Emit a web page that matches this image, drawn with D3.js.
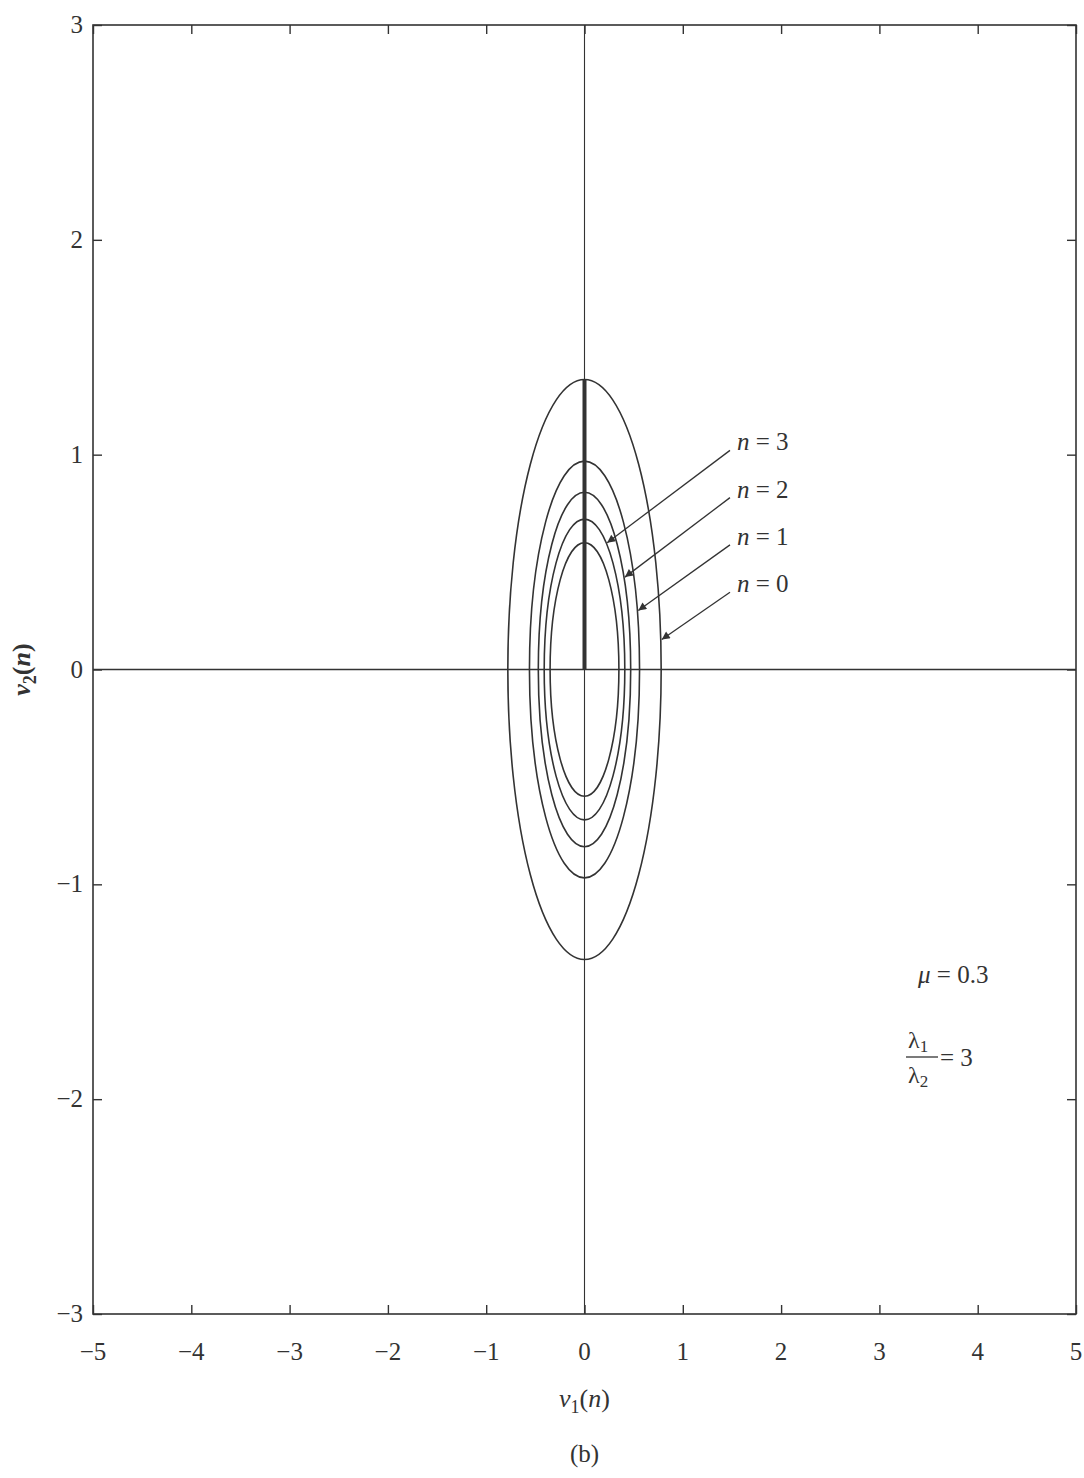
<!DOCTYPE html>
<html>
<head>
<meta charset="utf-8">
<title>contours</title>
<style>
  body { margin: 0; background: #fff; }
  text { font-family: "Liberation Serif", "DejaVu Serif", serif; fill: #333; }
</style>
</head>
<body>
<main></main>
<script src="https://cdn.jsdelivr.net/npm/d3@7/dist/d3.min.js"></script>
<script>
    // tick values
    var xTicks = [-5, -4, -3, -2, -1, 0, 1, 2, 3, 4, 5];
    var yTicks = [-3, -2, -1, 0, 1, 2, 3];

    // contour ellipses: semi axis along v1 and along v2
    var semiV1 = [0.78, 0.56, 0.47, 0.41, 0.35];
    var semiV2 = [1.35, 0.97, 0.825, 0.70, 0.59];

    // trajectory along v1 = 0
    var trajV1 = [0, 0];
    var trajV2 = [0, 1.35];

    // labels n = 0..3 and which ellipse / height the arrow hits
    var nLabels = ["0", "1", "2", "3"];
    var arrowRing = [0, 1, 2, 3];
    var arrowV2 = [0.14, 0.275, 0.43, 0.59];
    var labelV2 = [0.36, 0.58, 0.80, 1.02];

    var width = 1084, height = 1478;
    var pLeft = 93, pRight = 1076, pTop = 25, pBottom = 1314;

    var svg = d3.select("main").append("svg")
        .attr("width", width).attr("height", height);

    var x = d3.scaleLinear().domain([-5, 5]).range([pLeft, pRight]);
    var y = d3.scaleLinear().domain([-3, 3]).range([pBottom, pTop]);

    var ink = "#333";

    svg.append("defs").append("marker")
        .attr("id", "arr")
        .attr("viewBox", "0 0 10 10")
        .attr("refX", 10).attr("refY", 5)
        .attr("markerWidth", 12).attr("markerHeight", 8)
        .attr("markerUnits", "userSpaceOnUse")
        .attr("orient", "auto")
        .append("path").attr("d", "M0,0L10,5L0,10z").attr("fill", ink);

    // frame
    svg.append("rect")
        .attr("x", pLeft).attr("y", pTop)
        .attr("width", pRight - pLeft).attr("height", pBottom - pTop)
        .attr("fill", "none").attr("stroke", ink).attr("stroke-width", 1.6);

    // inward ticks on all four sides
    var tl = 9;
    function noDomain(g) { g.select(".domain").remove(); }
    svg.append("g").attr("transform", "translate(0," + pBottom + ")")
        .call(d3.axisBottom(x).tickValues(xTicks).tickSizeInner(-tl).tickSizeOuter(0).tickFormat(""))
        .call(noDomain);
    svg.append("g").attr("transform", "translate(0," + pTop + ")")
        .call(d3.axisTop(x).tickValues(xTicks).tickSizeInner(-tl).tickSizeOuter(0).tickFormat(""))
        .call(noDomain);
    svg.append("g").attr("transform", "translate(" + pLeft + ",0)")
        .call(d3.axisLeft(y).tickValues(yTicks).tickSizeInner(-tl).tickSizeOuter(0).tickFormat(""))
        .call(noDomain);
    svg.append("g").attr("transform", "translate(" + pRight + ",0)")
        .call(d3.axisRight(y).tickValues(yTicks).tickSizeInner(-tl).tickSizeOuter(0).tickFormat(""))
        .call(noDomain);
    svg.selectAll(".tick line").attr("stroke", ink).attr("stroke-width", 1.4);

    var fmt = function (d) { return d < 0 ? "\u2212" + Math.abs(d) : String(d); };

    // tick labels
    svg.append("g").selectAll("text").data(xTicks).enter().append("text")
        .attr("x", function (d) { return x(d); })
        .attr("y", pBottom + 46)
        .attr("text-anchor", "middle")
        .attr("font-size", 25)
        .text(fmt);
    svg.append("g").selectAll("text").data(yTicks).enter().append("text")
        .attr("x", pLeft - 10)
        .attr("y", function (d) { return y(d) + 8; })
        .attr("text-anchor", "end")
        .attr("font-size", 25)
        .text(fmt);

    // coordinate axes through origin
    svg.append("line")
        .attr("x1", pLeft).attr("x2", pRight)
        .attr("y1", y(0)).attr("y2", y(0))
        .attr("stroke", ink).attr("stroke-width", 1.3);
    svg.append("line")
        .attr("x1", x(0)).attr("x2", x(0))
        .attr("y1", pTop).attr("y2", pBottom)
        .attr("stroke", ink).attr("stroke-width", 1.1);

    // ellipses
    svg.append("g").selectAll("ellipse").data(semiV1).enter().append("ellipse")
        .attr("cx", x(0)).attr("cy", y(0))
        .attr("rx", function (d) { return x(d) - x(0); })
        .attr("ry", function (d, i) { return y(0) - y(semiV2[i]); })
        .attr("fill", "none").attr("stroke", ink).attr("stroke-width", 1.6);

    // trajectory
    svg.append("path")
        .datum(d3.zip(trajV1, trajV2))
        .attr("d", d3.line().x(function (d) { return x(d[0]); }).y(function (d) { return y(d[1]); }))
        .attr("stroke", ink).attr("stroke-width", 4).attr("fill", "none");

    // labels with arrows
    var labX = 1.48;
    nLabels.forEach(function (t, i) {
        var k = arrowRing[i];
        var a = semiV1[k], b = semiV2[k];
        var v2 = arrowV2[i];
        var v1 = a * Math.sqrt(1 - (v2 / b) * (v2 / b));
        svg.append("line")
            .attr("x1", x(labX)).attr("y1", y(labelV2[i]))
            .attr("x2", x(v1) + 1).attr("y2", y(v2))
            .attr("stroke", ink).attr("stroke-width", 1.3)
            .attr("marker-end", "url(#arr)");
        var tx = svg.append("text")
            .attr("x", x(labX) + 7).attr("y", y(labelV2[i]))
            .attr("font-size", 25);
        tx.append("tspan").attr("font-style", "italic").text("n");
        tx.append("tspan").text(" = " + t);
    });

    // parameters
    var mu = svg.append("text").attr("x", 918).attr("y", 983).attr("font-size", 25);
    mu.append("tspan").attr("font-style", "italic").text("\u03bc");
    mu.append("tspan").text(" = 0.3");

    svg.append("text").attr("x", 908).attr("y", 1048).attr("font-size", 24).text("\u03bb")
        .append("tspan").attr("font-size", 17).attr("dy", 4).text("1");
    svg.append("line").attr("x1", 906).attr("x2", 938).attr("y1", 1057).attr("y2", 1057)
        .attr("stroke", ink).attr("stroke-width", 1.3);
    svg.append("text").attr("x", 908).attr("y", 1083).attr("font-size", 24).text("\u03bb")
        .append("tspan").attr("font-size", 17).attr("dy", 4).text("2");
    svg.append("text").attr("x", 940).attr("y", 1066).attr("font-size", 25).text("= 3");

    // axis titles
    var xl = svg.append("text")
        .attr("x", x(0)).attr("y", 1407)
        .attr("text-anchor", "middle").attr("font-size", 26);
    xl.append("tspan").attr("font-style", "italic").text("v");
    xl.append("tspan").attr("font-size", 18).attr("dy", 6).text("1");
    xl.append("tspan").attr("dy", -6).text("(");
    xl.append("tspan").attr("font-style", "italic").text("n");
    xl.append("tspan").text(")");

    var yl = svg.append("text")
        .attr("transform", "translate(30," + y(0) + ") rotate(-90)")
        .attr("text-anchor", "middle").attr("font-size", 26)
        .attr("font-weight", "bold").attr("font-style", "italic");
    yl.append("tspan").text("v");
    yl.append("tspan").attr("font-size", 18).attr("font-style", "normal").attr("dy", 6).text("2");
    yl.append("tspan").attr("dy", -6).attr("font-style", "normal").text("(");
    yl.append("tspan").text("n");
    yl.append("tspan").attr("font-style", "normal").text(")");

    svg.append("text")
        .attr("x", x(0)).attr("y", 1462)
        .attr("text-anchor", "middle").attr("font-size", 25)
        .text("(b)");
</script>
</body>
</html>
